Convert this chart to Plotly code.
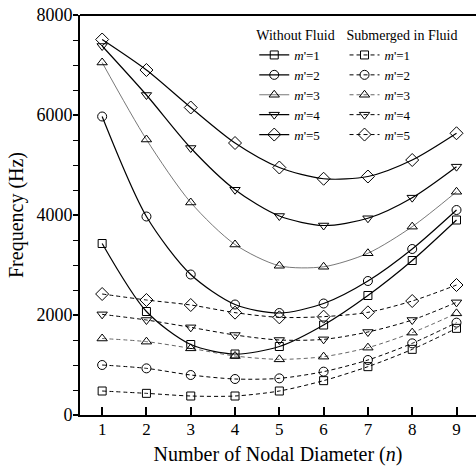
import plotly.graph_objects as go

n = [1, 2, 3, 4, 5, 6, 7, 8, 9]

dry_m1 = [3430, 2070, 1410, 1220, 1370, 1800, 2390, 3090, 3900]
dry_m2 = [5970, 3970, 2810, 2210, 2040, 2230, 2680, 3320, 4100]
dry_m3 = [7050, 5510, 4250, 3410, 2985, 2965, 3235, 3767, 4465]
dry_m4 = [7380, 6400, 5340, 4505, 3980, 3790, 3935, 4347, 4967]
dry_m5 = [7510, 6900, 6150, 5440, 4950, 4725, 4770, 5100, 5635]

wet_m1 = [480, 433, 380, 380, 480, 687, 967, 1313, 1733]
wet_m2 = [1000, 933, 800, 720, 733, 867, 1100, 1433, 1847]
wet_m3 = [1530, 1467, 1333, 1180, 1113, 1167, 1347, 1647, 2033]
wet_m4 = [2013, 1900, 1753, 1600, 1500, 1513, 1660, 1900, 2253]
wet_m5 = [2420, 2300, 2200, 2047, 1953, 1967, 2053, 2280, 2600]

labels = ["<i>m</i>'=1", "<i>m</i>'=2", "<i>m</i>'=3", "<i>m</i>'=4", "<i>m</i>'=5"]
symbols = ["square-open", "circle-open", "triangle-up-open", "triangle-down-open", "diamond-open"]
sizes = [8, 9, 9, 9, 10]
dry = [dry_m1, dry_m2, dry_m3, dry_m4, dry_m5]
wet = [wet_m1, wet_m2, wet_m3, wet_m4, wet_m5]

FONT = "Liberation Serif"
fig = go.Figure()

for i in range(5):
    col = "#555555" if i == 2 else "black"
    lw = 0.8 if i == 2 else 1.2
    fig.add_trace(go.Scatter(
        x=n, y=dry[i], mode="lines+markers", name=labels[i],
        line=dict(color=col, width=lw, shape="spline", smoothing=0.8),
        marker=dict(symbol=symbols[i], size=sizes[i], color="black",
                    line=dict(color="black", width=1)),
        legend="legend"))

for i in range(5):
    col = "#666666" if i == 2 else "black"
    fig.add_trace(go.Scatter(
        x=n, y=wet[i], mode="lines+markers", name=labels[i],
        line=dict(color=col, width=1, dash="4px,3px", shape="spline", smoothing=0.8),
        marker=dict(symbol=symbols[i], size=sizes[i], color="black",
                    line=dict(color="black", width=1)),
        legend="legend2"))

fig.update_layout(
    width=476, height=475,
    margin=dict(l=80, r=0, t=15, b=60),
    paper_bgcolor="white", plot_bgcolor="white",
    font=dict(family=FONT, size=17, color="black"),
    showlegend=True,
    legend=dict(x=0.44, y=0.983, xanchor="left", yanchor="top",
                title=dict(text="Without Fluid", font=dict(size=14, family=FONT)),
                font=dict(size=13, family=FONT), bgcolor="rgba(0,0,0,0)",
                tracegroupgap=0, itemwidth=30),
    legend2=dict(x=0.668, y=0.983, xanchor="left", yanchor="top",
                 title=dict(text="Submerged in Fluid", font=dict(size=14, family=FONT)),
                 font=dict(size=13, family=FONT), bgcolor="rgba(0,0,0,0)",
                 tracegroupgap=0, itemwidth=30),
    xaxis=dict(range=[0.5, 9.44], tickvals=n, ticks="inside", ticklen=8,
               tickwidth=1.5, tickcolor="black", showline=True, linecolor="black",
               linewidth=2, mirror=False, showgrid=False, zeroline=False,
               tickfont=dict(size=17, family=FONT), ticklabelstandoff=-2,
               title=dict(text="Number of Nodal Diameter (<i>n</i>)",
                          font=dict(size=20, family=FONT), standoff=9)),
    yaxis=dict(range=[0, 8000], dtick=2000, ticks="outside", ticklen=5,
               tickwidth=1.5, tickcolor="black", showline=True, linecolor="black",
               linewidth=2, showgrid=False, zeroline=False,
               minor=dict(dtick=500, ticks="outside", ticklen=5, tickcolor="black", tickwidth=1),
               tickfont=dict(size=18, family=FONT), ticklabelstandoff=-3,
               title=dict(text="Frequency (Hz)", font=dict(size=20, family=FONT), standoff=7)),
)

# top frame line
fig.add_shape(type="line", xref="paper", yref="paper", x0=0, x1=1, y0=1, y1=1,
              line=dict(color="black", width=2))

fig.write_html("out.html")
